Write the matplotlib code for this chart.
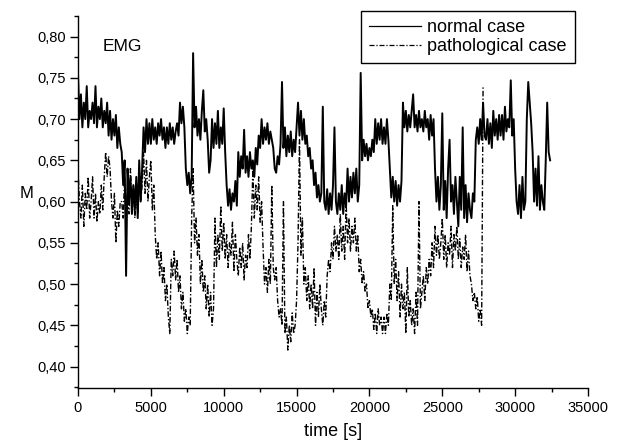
import numpy as np
import matplotlib
matplotlib.use("Agg")
import matplotlib.pyplot as plt
from matplotlib.ticker import MultipleLocator, FuncFormatter

plt.rcParams['font.family'] = ['Liberation Sans', 'DejaVu Sans']

# time axis (s), sampled every 100 s
t_normal = np.arange(0, 32401, 100)
normal = [
    0.755, 0.70, 0.73, 0.69, 0.72, 0.70, 0.74, 0.69, 0.71, 0.70,
    0.72, 0.695, 0.74, 0.69, 0.715, 0.70, 0.725, 0.69, 0.71, 0.695,
    0.72, 0.68, 0.71, 0.675, 0.70, 0.68, 0.705, 0.665, 0.69, 0.67,
    0.66, 0.62, 0.65, 0.51, 0.64, 0.60, 0.63, 0.585, 0.62, 0.59,
    0.63, 0.58, 0.65, 0.60, 0.64, 0.69, 0.66, 0.70, 0.67, 0.695,
    0.67, 0.70, 0.675, 0.69, 0.67, 0.695, 0.68, 0.70, 0.675, 0.69,
    0.665, 0.69, 0.67, 0.695, 0.675, 0.69, 0.67, 0.685, 0.695, 0.68,
    0.72, 0.695, 0.715, 0.69, 0.64, 0.62, 0.635, 0.61, 0.63, 0.78,
    0.69, 0.715, 0.68, 0.70, 0.675, 0.71, 0.735, 0.685, 0.70, 0.675,
    0.635, 0.65, 0.70, 0.665, 0.695, 0.67, 0.71, 0.665, 0.69, 0.67,
    0.713, 0.66, 0.62, 0.595, 0.615, 0.59, 0.61, 0.60, 0.625, 0.595,
    0.66, 0.63, 0.655, 0.64, 0.687, 0.635, 0.655, 0.63, 0.66, 0.64,
    0.65, 0.63, 0.665, 0.645, 0.68, 0.665, 0.70, 0.67, 0.69, 0.675,
    0.695, 0.67, 0.685, 0.675, 0.665, 0.64, 0.635, 0.655, 0.645, 0.67,
    0.745, 0.665, 0.69, 0.655, 0.68, 0.66, 0.685, 0.655, 0.675, 0.66,
    0.69, 0.72, 0.68, 0.71, 0.675, 0.70, 0.67, 0.68, 0.655, 0.665,
    0.64, 0.65, 0.62, 0.635, 0.605, 0.62, 0.60, 0.61, 0.715, 0.60,
    0.59, 0.615, 0.585, 0.61, 0.59, 0.62, 0.69, 0.60, 0.585, 0.61,
    0.59, 0.62, 0.585, 0.61, 0.595, 0.64, 0.60, 0.63, 0.605, 0.635,
    0.61, 0.64, 0.60, 0.62, 0.756, 0.65, 0.675, 0.655, 0.67, 0.65,
    0.665, 0.655, 0.675, 0.66, 0.70, 0.67, 0.695, 0.675, 0.70, 0.67,
    0.69, 0.67, 0.70, 0.675, 0.64, 0.605, 0.63, 0.60, 0.625, 0.595,
    0.62, 0.60, 0.625, 0.72, 0.69, 0.71, 0.685, 0.705, 0.69, 0.71,
    0.73, 0.69, 0.705, 0.685, 0.71, 0.69, 0.70, 0.685, 0.71, 0.69,
    0.70, 0.675, 0.705, 0.68, 0.70, 0.64, 0.60, 0.63, 0.59, 0.62,
    0.707, 0.59, 0.625, 0.58, 0.64, 0.675, 0.60, 0.62, 0.585, 0.63,
    0.60, 0.57, 0.63, 0.59, 0.69, 0.58, 0.62, 0.575, 0.61, 0.59,
    0.58, 0.61, 0.60, 0.675, 0.69, 0.67, 0.70, 0.675, 0.72, 0.68,
    0.675, 0.70, 0.67, 0.695, 0.665, 0.71, 0.68, 0.70, 0.675, 0.705,
    0.68, 0.705, 0.675, 0.715, 0.685, 0.70, 0.69, 0.747, 0.68, 0.70,
    0.64, 0.60, 0.585, 0.62, 0.58, 0.63, 0.59, 0.60, 0.70, 0.745,
    0.72, 0.695, 0.66, 0.60, 0.64, 0.595, 0.655, 0.59, 0.62, 0.60,
    0.59, 0.65, 0.72, 0.66, 0.65,
]

t_path = np.arange(0, 27801, 100)
pathological = [
    0.64, 0.60, 0.58, 0.62, 0.57, 0.61, 0.59, 0.63, 0.58, 0.60,
    0.63, 0.58, 0.61, 0.575, 0.60, 0.585, 0.62, 0.59, 0.63, 0.66,
    0.63, 0.655, 0.64, 0.60, 0.58, 0.61, 0.55, 0.59, 0.57, 0.60,
    0.60, 0.58, 0.63, 0.59, 0.61, 0.585, 0.64, 0.60, 0.62, 0.58,
    0.61, 0.585, 0.64, 0.60, 0.62, 0.66, 0.61, 0.65, 0.60, 0.63,
    0.65, 0.59, 0.62, 0.56, 0.53, 0.55, 0.51, 0.54, 0.50, 0.52,
    0.48, 0.50, 0.46, 0.44, 0.53, 0.51, 0.54, 0.505, 0.53, 0.49,
    0.51, 0.47, 0.49, 0.455, 0.47, 0.44, 0.46, 0.45, 0.58, 0.64,
    0.55, 0.58, 0.535, 0.56, 0.50, 0.53, 0.49, 0.51, 0.47, 0.50,
    0.46, 0.49, 0.45, 0.47, 0.58, 0.52, 0.56, 0.53, 0.595, 0.54,
    0.575, 0.53, 0.56, 0.52, 0.55, 0.535, 0.575, 0.515, 0.56, 0.53,
    0.51, 0.545, 0.52, 0.55, 0.505, 0.535, 0.52, 0.56, 0.53, 0.57,
    0.64, 0.58, 0.62, 0.59, 0.63, 0.575, 0.60, 0.545, 0.50, 0.52,
    0.49, 0.53, 0.50, 0.62, 0.52, 0.505, 0.52, 0.48, 0.46, 0.47,
    0.45, 0.60, 0.44, 0.46, 0.42, 0.45, 0.43, 0.465, 0.44, 0.45,
    0.48, 0.55, 0.675, 0.535, 0.58, 0.50, 0.52, 0.48, 0.51, 0.47,
    0.50, 0.47, 0.52, 0.45, 0.49, 0.46, 0.50, 0.47, 0.45, 0.48,
    0.46, 0.51, 0.53, 0.515, 0.55, 0.53, 0.57, 0.54, 0.56, 0.53,
    0.585, 0.54, 0.57, 0.53, 0.60, 0.55, 0.58, 0.54, 0.57, 0.55,
    0.58, 0.54, 0.56, 0.515, 0.53, 0.50, 0.515, 0.49, 0.50, 0.47,
    0.48, 0.46, 0.47, 0.445, 0.465, 0.44, 0.47, 0.45, 0.46, 0.44,
    0.46, 0.44, 0.465, 0.45, 0.50, 0.48, 0.595, 0.50, 0.53, 0.48,
    0.515, 0.46, 0.50, 0.47, 0.49, 0.44, 0.52, 0.46, 0.48, 0.45,
    0.47, 0.44, 0.49, 0.45, 0.60, 0.47, 0.49, 0.51, 0.48, 0.52,
    0.50, 0.53, 0.51, 0.55, 0.52, 0.57, 0.535, 0.56, 0.53, 0.55,
    0.58, 0.53, 0.56, 0.52, 0.55, 0.535, 0.57, 0.52, 0.56, 0.54,
    0.57, 0.53, 0.555, 0.52, 0.545, 0.53, 0.56, 0.515, 0.54, 0.51,
    0.50, 0.48, 0.49, 0.47, 0.485, 0.455, 0.47, 0.45, 0.74,
]

fig = plt.figure(figsize=(6.27, 4.47), dpi=100)
ax = fig.add_axes([78/627, 1-388/447, (588-78)/627, (388-16)/447])

ax.plot(t_normal, normal, color='black', lw=1.4, ls='-', label='normal case')
ax.plot(t_path, pathological, color='black', lw=1.0,
        ls=(0, (4, 1.5, 1, 1.5)), label='pathological case')

ax.set_xlim(0, 35000)
ax.set_ylim(0.374, 0.825)
ax.xaxis.set_major_locator(MultipleLocator(5000))
ax.xaxis.set_minor_locator(MultipleLocator(2500))
ax.yaxis.set_major_locator(MultipleLocator(0.05))
ax.yaxis.set_minor_locator(MultipleLocator(0.025))
ax.yaxis.set_major_formatter(FuncFormatter(lambda v, p: f"{v:.2f}".replace('.', ',')))

for s in ('top', 'right'):
    ax.spines[s].set_visible(False)
for s in ('left', 'bottom'):
    ax.spines[s].set_linewidth(1.0)
ax.tick_params(axis='both', which='major', direction='out', length=5.5, width=1, labelsize=10.5)
ax.tick_params(axis='both', which='minor', direction='out', length=3, width=1)

ax.set_xlabel('time [s]', fontsize=13, labelpad=6)
ax.set_ylabel('M', fontsize=12, rotation=0, va='center', ha='center')
ax.yaxis.set_label_coords(-0.1, 0.524)

ax.text(0.049, 0.917, 'EMG', transform=ax.transAxes, fontsize=12.5, va='center', ha='left')

leg = ax.legend(loc='upper right', bbox_to_anchor=(575/627, 1-11/447),
                bbox_transform=fig.transFigure, borderaxespad=0,
                fontsize=13, handlelength=2.9, handletextpad=0.35,
                borderpad=0.45, labelspacing=0.1, fancybox=False,
                framealpha=1, edgecolor='black')
leg.get_frame().set_linewidth(1.0)
for ln in leg.get_lines():
    ln.set_linewidth(0.9)

fig.savefig('out.png', dpi=100)
